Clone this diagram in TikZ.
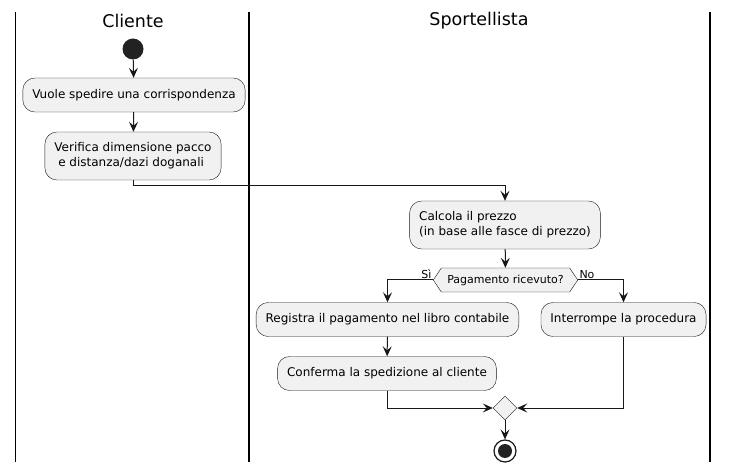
\documentclass[tikz,border=0pt]{standalone}
\usepackage{fontspec}
\setmainfont{DejaVu Sans}
\usetikzlibrary{arrows.meta,shapes.geometric,shapes.symbols}
\definecolor{boxfill}{HTML}{F1F1F1}
\definecolor{boxline}{HTML}{181818}
\definecolor{dot}{HTML}{222222}
\begin{document}
\begin{tikzpicture}[x=1pt,y=-1pt,
  every node/.style={font=\fontsize{11}{15}\selectfont},
  act/.style={draw=boxline,fill=boxfill,rounded corners=12pt,align=left,inner xsep=9.5pt,inner ysep=2pt,minimum height=34pt,font=\fontsize{12}{15}\selectfont},
  act2/.style={act,minimum height=48pt},
  choice/.style={draw=boxline,fill=boxfill,signal,signal to=west and east,signal pointer angle=112,inner xsep=6pt,inner ysep=0pt,minimum height=24pt},
  merge/.style={draw=boxline,fill=boxfill,diamond,inner sep=0pt,minimum size=24pt},
  lane/.style={line width=1.4pt},
  title/.style={font=\fontsize{17.5}{20}\selectfont},
  guard/.style={inner sep=1pt},
  flow/.style={draw=boxline,line width=1pt,-{Stealth[length=10pt,width=9pt,inset=4pt]}}
  ]
    \useasboundingbox (0,0) rectangle (729,473);
    \draw[lane] (15.5,12) -- (15.5,462);
    \draw[lane] (249,12) -- (249,462);
    \draw[lane] (710,12) -- (710,462);
    \node[title] (cliente) at (133,21) {Cliente};
    \node[title] (sportellista) at (479,21) {Sportellista};

    \node[circle,fill=dot,inner sep=0pt,minimum size=21pt] (inizio) at (133,49) {};
    \node[act] (vuole) at (134,95) {Vuole spedire una corrispondenza};
    \node[act2] (verifica) at (133,156) {Verifica dimensione pacco\\\ e distanza/dazi doganali};
    \node[act2] (calcola) at (505,225) {Calcola il prezzo\\(in base alle fasce di prezzo)};
    \node[choice] (pagato) at (505.5,280) {Pagamento ricevuto?};
    \node[act] (registra) at (387.5,319.5) {Registra il pagamento nel libro contabile};
    \node[act] (interrompe) at (623.5,319.5) {Interrompe la procedura};
    \node[act] (conferma) at (387,373.5) {Conferma la spedizione al cliente};
    \node[merge] (unione) at (505,408) {};
    \node[circle,draw=boxline,line width=1.2pt,fill=white,inner sep=0pt,minimum size=22pt] (fine) at (505,451) {};
    \fill[dot] (fine.center) circle (7);

    \draw[flow] (inizio) -- (vuole);
    \draw[flow] (vuole) -- (verifica);
    \draw[flow] (verifica.south) -- ++(0,5) -| (calcola.north);
    \draw[flow] (calcola) -- (pagato);
    \draw[flow] (pagato.west) -| (registra.north) node[guard,pos=0,anchor=south east] {Sì};
    \draw[flow] (pagato.east) -| (interrompe.north) node[guard,pos=0,anchor=south west] {No};
    \draw[flow] (registra) -- (conferma);
    \draw[flow] (conferma.south) |- (unione.west);
    \draw[flow] (interrompe.south) |- (unione.east);
    \draw[flow] (unione) -- (fine);
\end{tikzpicture}
\end{document}
